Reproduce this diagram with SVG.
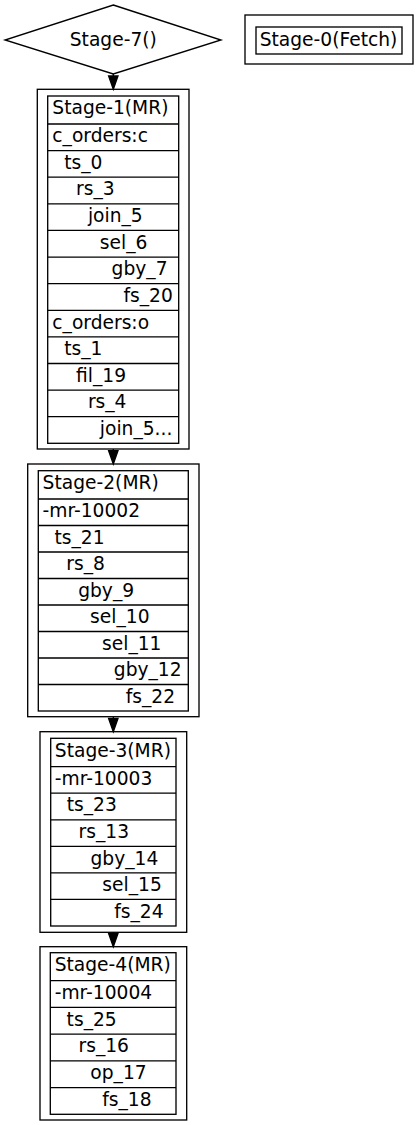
<svg xmlns="http://www.w3.org/2000/svg" width="419" height="1125" viewBox="0 0 419 1125">
<style>
.bg{fill:#fff}
.box{fill:none;stroke:#000;stroke-width:1.33}
.tbl{fill:none;stroke:#000;stroke-width:1.33}
.sep{stroke:#000;stroke-width:1.33}
.edge{fill:none;stroke:#000;stroke-width:1.33}
.head{fill:#000;stroke:#000;stroke-width:1.33}
text{font-family:"DejaVu Sans",sans-serif;font-size:18.67px;fill:#000}
.mid{text-anchor:middle}
</style>
<rect class="bg" x="0" y="0" width="419" height="1125"/>
<g id="connectors">
<path class="edge" d="M113.3,74 V76"/>
<polygon class="head" points="108.6,76 118,76 113.3,89.3"/>
<path class="edge" d="M113.3,449 V450.7"/>
<polygon class="head" points="108.6,450.7 118,450.7 113.3,464"/>
<path class="edge" d="M113.3,716.7 V718.4"/>
<polygon class="head" points="108.6,718.4 118,718.4 113.3,731.7"/>
<path class="edge" d="M113.3,932.3 V933.4"/>
<polygon class="head" points="108.6,933.4 118,933.4 113.3,946.7"/>
</g>
<g id="stage7">
<polygon class="box" points="113.3,5 221,40 113.3,74 5,40"/>
<text class="mid" x="113.3" y="45.7">Stage-7()</text>
</g>
<g id="stage0">
<rect class="box" x="245" y="15" width="168" height="49"/>
<rect class="tbl" x="256" y="27" width="146" height="27"/>
<text class="mid" x="328.5" y="45.7">Stage-0(Fetch)</text>
</g>
<g id="stage1">
<rect class="box" x="37.3" y="89.3" width="151.7" height="359.7"/>
<rect class="tbl" x="47.7" y="96" width="131" height="347.3"/>
<path class="sep" d="M47.7,124H178.7M47.7,150.6H178.7M47.7,177.2H178.7M47.7,203.8H178.7M47.7,230.4H178.7M47.7,257.1H178.7M47.7,283.7H178.7M47.7,310.3H178.7M47.7,336.9H178.7M47.7,363.5H178.7M47.7,390.1H178.7M47.7,416.7H178.7"/>
<text x="52.3" y="114.2">Stage-1(MR)</text>
<text x="52.3" y="142.2">c_orders:c</text>
<text x="64.2" y="168.8">ts_0</text>
<text x="76" y="195.4">rs_3</text>
<text x="87.9" y="222">join_5</text>
<text x="99.8" y="248.6">sel_6</text>
<text x="111.6" y="275.3">gby_7</text>
<text x="123.5" y="301.9">fs_20</text>
<text x="52.3" y="328.5">c_orders:o</text>
<text x="64.2" y="355.1">ts_1</text>
<text x="76" y="381.7">fil_19</text>
<text x="87.9" y="408.3">rs_4</text>
<text x="99.8" y="434.9">join_5...</text>
</g>
<g id="stage2">
<rect class="box" x="27.7" y="464" width="171.3" height="252.7"/>
<rect class="tbl" x="38.3" y="470.7" width="150" height="240.3"/>
<path class="sep" d="M38.3,499H188.3M38.3,525.5H188.3M38.3,552H188.3M38.3,578.5H188.3M38.3,605H188.3M38.3,631.5H188.3M38.3,658H188.3M38.3,684.5H188.3"/>
<text x="42.6" y="488.9">Stage-2(MR)</text>
<text x="42.6" y="517.2">-mr-10002</text>
<text x="54.5" y="543.7">ts_21</text>
<text x="66.3" y="570.2">rs_8</text>
<text x="78.2" y="596.7">gby_9</text>
<text x="90.1" y="623.2">sel_10</text>
<text x="102" y="649.7">sel_11</text>
<text x="113.8" y="676.2">gby_12</text>
<text x="125.7" y="702.7">fs_22</text>
</g>
<g id="stage3">
<rect class="box" x="40" y="731.7" width="146.7" height="200.6"/>
<rect class="tbl" x="50.7" y="738.3" width="125.3" height="187.7"/>
<path class="sep" d="M50.7,766.7H176M50.7,793.2H176M50.7,819.8H176M50.7,846.3H176M50.7,872.9H176M50.7,899.4H176"/>
<text x="54.8" y="756.5">Stage-3(MR)</text>
<text x="54.8" y="784.9">-mr-10003</text>
<text x="66.7" y="811.4">ts_23</text>
<text x="78.6" y="838">rs_13</text>
<text x="90.5" y="864.5">gby_14</text>
<text x="102.3" y="891.1">sel_15</text>
<text x="114.2" y="917.6">fs_24</text>
</g>
<g id="stage4">
<rect class="box" x="40" y="946.7" width="146.7" height="173.3"/>
<rect class="tbl" x="50.3" y="952.7" width="125.7" height="161.6"/>
<path class="sep" d="M50.3,980.7H176M50.3,1007.4H176M50.3,1034.1H176M50.3,1060.9H176M50.3,1087.6H176"/>
<text x="54.7" y="970.9">Stage-4(MR)</text>
<text x="54.7" y="998.9">-mr-10004</text>
<text x="66.6" y="1025.6">ts_25</text>
<text x="78.5" y="1052.3">rs_16</text>
<text x="90.3" y="1079.1">op_17</text>
<text x="102.2" y="1105.8">fs_18</text>
</g>
</svg>
